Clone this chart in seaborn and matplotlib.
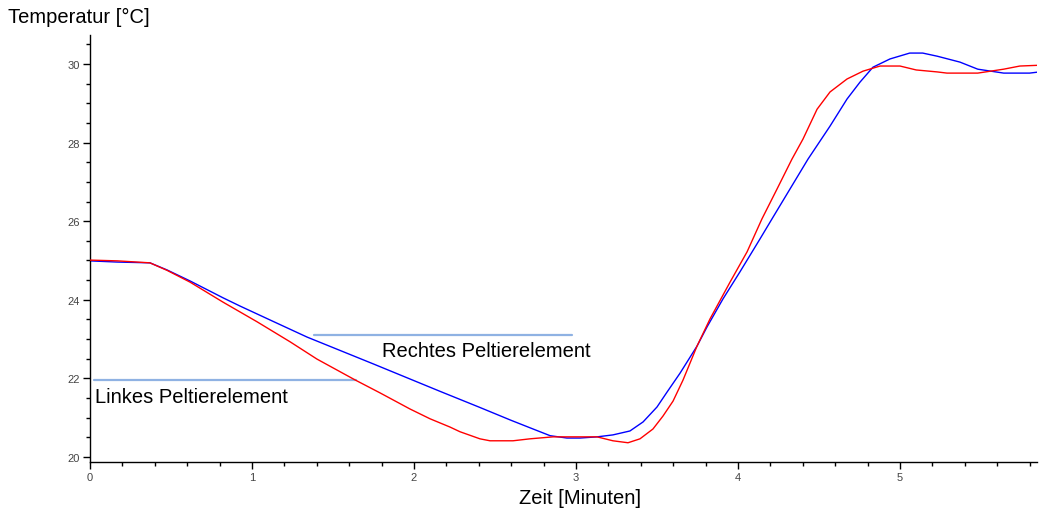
import matplotlib
matplotlib.use("Agg")
import matplotlib.pyplot as plt
import seaborn as sns
import pandas as pd
from matplotlib.ticker import MultipleLocator
from matplotlib import font_manager

# ---- data ----
blue_t = [0.000, 0.167, 0.370, 0.475, 0.617, 0.821, 0.926, 1.130, 1.340, 1.747, 2.160, 2.400,
          2.600, 2.735, 2.840, 2.944, 3.025, 3.130, 3.228, 3.333, 3.414, 3.500, 3.562, 3.642, 3.747,
          3.809, 3.907, 4.012, 4.136, 4.210, 4.340, 4.432, 4.568, 4.673, 4.753, 4.833, 4.938, 5.06,
          5.14, 5.23, 5.37, 5.48, 5.56, 5.64, 5.80, 5.86]
blue_T = [24.99, 24.96, 24.94, 24.76, 24.48, 24.05, 23.84, 23.45, 23.05, 22.37, 21.67, 21.27,
          20.93, 20.71, 20.54, 20.48, 20.48, 20.51, 20.56, 20.66, 20.89, 21.27, 21.65, 22.13, 22.82,
          23.31, 24.02, 24.71, 25.55, 26.06, 26.95, 27.58, 28.42, 29.11, 29.54, 29.92, 30.13, 30.28,
          30.28, 30.20, 30.05, 29.87, 29.82, 29.77, 29.77, 29.80]

red_t = [0.000, 0.170, 0.370, 0.475, 0.617, 0.821, 0.926, 1.031, 1.235, 1.401, 1.636, 1.790, 1.975,
         2.099, 2.222, 2.284, 2.407, 2.469, 2.611, 2.716, 2.858, 3.025, 3.130, 3.228, 3.321, 3.395,
         3.475, 3.537, 3.599, 3.660, 3.747, 3.827, 3.951, 4.056, 4.148, 4.241, 4.333, 4.401, 4.488,
         4.568, 4.673, 4.772, 4.877, 5.00, 5.10, 5.23, 5.29, 5.48, 5.56, 5.64, 5.74, 5.86]
red_T = [25.01, 24.99, 24.94, 24.75, 24.45, 23.94, 23.69, 23.44, 22.93, 22.49, 21.96, 21.63, 21.22,
         20.97, 20.76, 20.64, 20.46, 20.41, 20.41, 20.46, 20.51, 20.51, 20.51, 20.41, 20.36, 20.46,
         20.71, 21.04, 21.42, 21.95, 22.82, 23.51, 24.45, 25.22, 26.06, 26.82, 27.58, 28.09, 28.85,
         29.29, 29.62, 29.82, 29.95, 29.95, 29.85, 29.80, 29.77, 29.77, 29.82, 29.87, 29.95, 29.97]

y_label = "Temperatur [°C]"
x_label = "Zeit [Minuten]"
label_right = "Rechtes Peltierelement"
label_left = "Linkes Peltierelement"

# ---- style ----
sns.set_style("white")
names = {f.name for f in font_manager.fontManager.ttflist}
fam = "Liberation Sans Narrow" if "Liberation Sans Narrow" in names else "Liberation Sans"
plt.rcParams['font.family'] = [fam, 'DejaVu Sans']

fig = plt.figure(figsize=(10.39, 5.10), dpi=100)
ax = fig.add_axes([90 / 1039, 47 / 510, (1037 - 90) / 1039, (463 - 36) / 510])

# annotation leader lines
ax.plot([1.383, 2.975], [23.10, 23.10], color="#8fb2e3", lw=1.6, zorder=1)
ax.plot([0.025, 1.642], [21.96, 21.96], color="#8fb2e3", lw=1.6, zorder=1)

blue_df = pd.DataFrame({"t": blue_t, "T": blue_T})
red_df = pd.DataFrame({"t": red_t, "T": red_T})
sns.lineplot(data=blue_df, x="t", y="T", ax=ax, color="#0000ff", lw=1.0, zorder=2)
sns.lineplot(data=red_df, x="t", y="T", ax=ax, color="#ff0000", lw=1.0, zorder=3)

ax.set_xlim(0, (1037 - 90) / 162)
ax.set_ylim(19.87, 30.74)
ax.xaxis.set_major_locator(MultipleLocator(1))
ax.xaxis.set_minor_locator(MultipleLocator(0.2))
ax.yaxis.set_major_locator(MultipleLocator(2))
ax.yaxis.set_minor_locator(MultipleLocator(0.5))

for s in ["top", "right"]:
    ax.spines[s].set_visible(False)
for s in ["left", "bottom"]:
    ax.spines[s].set_color("black")
    ax.spines[s].set_linewidth(1.0)

ax.tick_params(axis="both", which="major", direction="out", length=5, width=1,
               color="black", labelsize=8, labelcolor="#444444", pad=2,
               bottom=True, left=True)
ax.tick_params(axis="both", which="minor", direction="out", length=3, width=1,
               color="black", bottom=True, left=True)
ax.set_xlabel("")
ax.set_ylabel("")

ax.text(1.80, 22.72, label_right, fontsize=14.5, color="black", va="center", ha="left")
ax.text(0.03, 21.53, label_left, fontsize=14.5, color="black", va="center", ha="left")

fig.text(8 / 1039, 1 - 17 / 510, y_label, fontsize=14.5, color="black", va="center", ha="left")
fig.text(580 / 1039, 11 / 510, x_label, fontsize=14.5, color="black", va="center", ha="center")

fig.savefig("out.png", dpi=100)
